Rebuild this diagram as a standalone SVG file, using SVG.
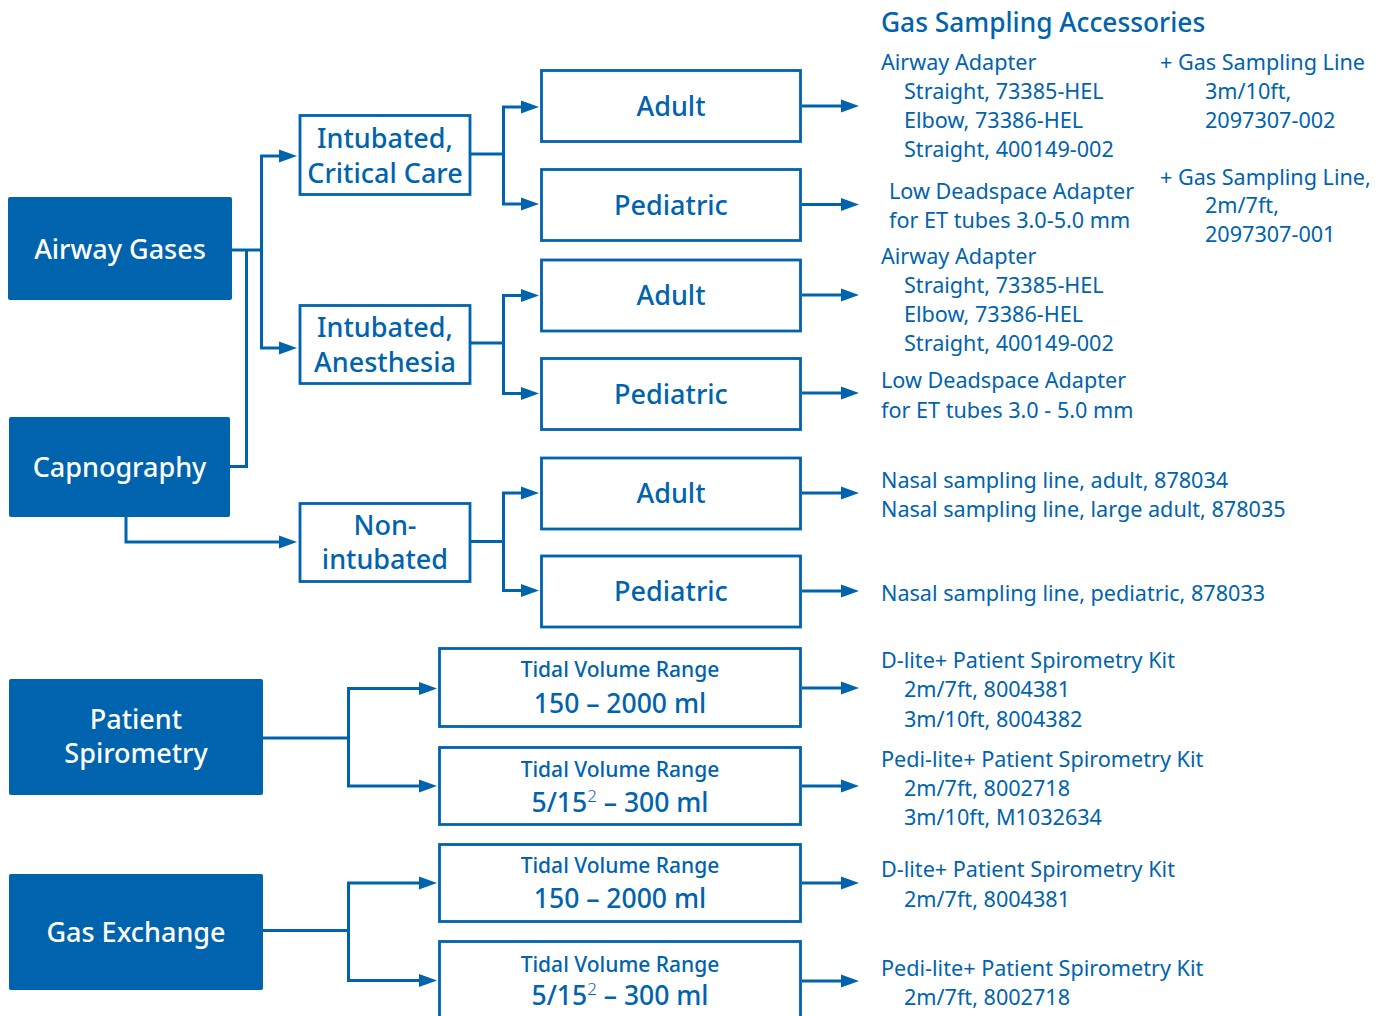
<svg xmlns="http://www.w3.org/2000/svg" width="1386" height="1016" viewBox="0 0 1386 1016">
<defs>
<style>
.fill{fill:#0063AE;}
.box{fill:#fff;stroke:#0063AE;stroke-width:2.8;}
.wl{fill:#fff;font-family:"Noto Sans","DejaVu Sans",sans-serif;font-size:27px;font-weight:500;text-anchor:middle;}
.bl{fill:#0063AE;font-family:"Noto Sans","DejaVu Sans",sans-serif;font-size:27px;font-weight:500;text-anchor:middle;}
.tv{fill:#0063AE;font-family:"Noto Sans","DejaVu Sans",sans-serif;font-size:21px;font-weight:500;text-anchor:middle;}
.tn{fill:#0063AE;font-family:"Noto Sans","DejaVu Sans",sans-serif;font-size:26.5px;font-weight:500;text-anchor:middle;}
.sup{font-size:17px;font-weight:300;}
.rt{fill:#0063AE;font-family:"Noto Sans","DejaVu Sans",sans-serif;font-size:21.6px;}
.ttl{fill:#0063AE;font-family:"Noto Sans","DejaVu Sans",sans-serif;font-size:26.3px;font-weight:500;}
.ln{fill:none;stroke:#0063AE;stroke-width:3;}
.ar{fill:none;stroke:#0063AE;stroke-width:3;marker-end:url(#ah);}
</style>
<marker id="ah" markerUnits="userSpaceOnUse" markerWidth="18" markerHeight="14" refX="10" refY="6.5" orient="auto" viewBox="0 0 18 13">
<path d="M0,0 L18,6.5 L0,13 z" fill="#0063AE"/>
</marker>
</defs>

<g id="connectors">
<path class="ln" d="M232,250 H261.5"/>
<path class="ln" d="M261.5,156 V348"/>
<path class="ar" d="M260,156 H289"/>
<path class="ar" d="M260,348 H289"/>
<path class="ln" d="M246.5,250 V466.5 H230"/>
<path class="ar" d="M126,517 V542 H289"/>
<path class="ln" d="M471,154 H503.5"/>
<path class="ln" d="M503.5,107 V204"/>
<path class="ar" d="M502,107 H531"/>
<path class="ar" d="M502,204 H531"/>
<path class="ln" d="M471,343 H503.5"/>
<path class="ln" d="M503.5,295.5 V393.5"/>
<path class="ar" d="M502,295.5 H531"/>
<path class="ar" d="M502,393.5 H531"/>
<path class="ln" d="M471,541.5 H503.5"/>
<path class="ln" d="M503.5,493 V590.5"/>
<path class="ar" d="M502,493 H531"/>
<path class="ar" d="M502,590.5 H531"/>
<path class="ln" d="M263,738 H348.5"/>
<path class="ln" d="M348.5,688.5 V786"/>
<path class="ar" d="M347,688.5 H429"/>
<path class="ar" d="M347,786 H429"/>
<path class="ln" d="M263,930.5 H348.5"/>
<path class="ln" d="M348.5,883 V980.5"/>
<path class="ar" d="M347,883 H429"/>
<path class="ar" d="M347,980.5 H429"/>
<path class="ar" d="M802,106 H851"/>
<path class="ar" d="M802,204.5 H851"/>
<path class="ar" d="M802,295 H851"/>
<path class="ar" d="M802,393 H851"/>
<path class="ar" d="M802,493 H851"/>
<path class="ar" d="M802,591 H851"/>
<path class="ar" d="M802,688 H851"/>
<path class="ar" d="M802,786 H851"/>
<path class="ar" d="M802,883 H851"/>
<path class="ar" d="M802,981 H851"/>
</g>

<g id="airway-gases">
<rect class="fill" x="8" y="197" width="224" height="103" rx="2"/>
<text class="wl" x="120" y="259">Airway Gases</text>
</g>
<g id="capnography">
<rect class="fill" x="9" y="417" width="221" height="100" rx="2"/>
<text class="wl" x="119.5" y="477">Capnography</text>
</g>
<g id="patient-spirometry">
<rect class="fill" x="9" y="679" width="254" height="116" rx="2"/>
<text class="wl" x="136" y="729">Patient</text>
<text class="wl" x="136" y="763">Spirometry</text>
</g>
<g id="gas-exchange">
<rect class="fill" x="9" y="874" width="254" height="116" rx="2"/>
<text class="wl" x="136" y="942">Gas Exchange</text>
</g>

<g id="intubated-critical-care">
<rect class="box" x="300" y="115.5" width="170" height="79"/>
<text class="bl" x="385" y="148">Intubated,</text>
<text class="bl" x="385" y="183">Critical Care</text>
</g>
<g id="intubated-anesthesia">
<rect class="box" x="300" y="305.5" width="170" height="78"/>
<text class="bl" x="385" y="337">Intubated,</text>
<text class="bl" x="385" y="372">Anesthesia</text>
</g>
<g id="non-intubated">
<rect class="box" x="300" y="503.5" width="170" height="78"/>
<text class="bl" x="385" y="535">Non-</text>
<text class="bl" x="385" y="569">intubated</text>
</g>

<g id="adult-1">
<rect class="box" x="541.5" y="70.5" width="259" height="71"/>
<text class="bl" x="671" y="116">Adult</text>
</g>
<g id="pediatric-1">
<rect class="box" x="541.5" y="169.5" width="259" height="71"/>
<text class="bl" x="671" y="215">Pediatric</text>
</g>
<g id="adult-2">
<rect class="box" x="541.5" y="260" width="259" height="71"/>
<text class="bl" x="671" y="305">Adult</text>
</g>
<g id="pediatric-2">
<rect class="box" x="541.5" y="358.5" width="259" height="71"/>
<text class="bl" x="671" y="404">Pediatric</text>
</g>
<g id="adult-3">
<rect class="box" x="541.5" y="458" width="259" height="71"/>
<text class="bl" x="671" y="503">Adult</text>
</g>
<g id="pediatric-3">
<rect class="box" x="541.5" y="556" width="259" height="71"/>
<text class="bl" x="671" y="601">Pediatric</text>
</g>

<g id="tidal-1">
<rect class="box" x="439.5" y="648.5" width="361" height="78"/>
<text class="tv" x="620" y="677">Tidal Volume Range</text>
<text class="tn" x="620" y="713">150 – 2000 ml</text>
</g>
<g id="tidal-2">
<rect class="box" x="439.5" y="747.5" width="361" height="77"/>
<text class="tv" x="620" y="777">Tidal Volume Range</text>
<text class="tn" x="620" y="812">5/15<tspan class="sup" dy="-10">2</tspan><tspan dy="10"> – 300 ml</tspan></text>
</g>
<g id="tidal-3">
<rect class="box" x="439.5" y="844.5" width="361" height="77"/>
<text class="tv" x="620" y="873">Tidal Volume Range</text>
<text class="tn" x="620" y="908">150 – 2000 ml</text>
</g>
<g id="tidal-4">
<rect class="box" x="439.5" y="941.5" width="361" height="80"/>
<text class="tv" x="620" y="972">Tidal Volume Range</text>
<text class="tn" x="620" y="1005">5/15<tspan class="sup" dy="-10">2</tspan><tspan dy="10"> – 300 ml</tspan></text>
</g>

<g id="accessories">
<text class="ttl" x="881" y="32">Gas Sampling Accessories</text>
<text class="rt" x="881" y="70">Airway Adapter</text>
<text class="rt" x="904" y="99">Straight, 73385-HEL</text>
<text class="rt" x="904" y="128">Elbow, 73386-HEL</text>
<text class="rt" x="904" y="157">Straight, 400149-002</text>
<text class="rt" x="1160" y="70">+ Gas Sampling Line</text>
<text class="rt" x="1205" y="99">3m/10ft,</text>
<text class="rt" x="1205" y="128">2097307-002</text>
<text class="rt" x="889" y="199">Low Deadspace Adapter</text>
<text class="rt" x="889" y="228">for ET tubes 3.0-5.0 mm</text>
<text class="rt" x="1160" y="185">+ Gas Sampling Line,</text>
<text class="rt" x="1205" y="213">2m/7ft,</text>
<text class="rt" x="1205" y="242">2097307-001</text>
<text class="rt" x="881" y="264">Airway Adapter</text>
<text class="rt" x="904" y="293">Straight, 73385-HEL</text>
<text class="rt" x="904" y="322">Elbow, 73386-HEL</text>
<text class="rt" x="904" y="351">Straight, 400149-002</text>
<text class="rt" x="881" y="388">Low Deadspace Adapter</text>
<text class="rt" x="881" y="418">for ET tubes 3.0 - 5.0 mm</text>
<text class="rt" x="881" y="488">Nasal sampling line, adult, 878034</text>
<text class="rt" x="881" y="517">Nasal sampling line, large adult, 878035</text>
<text class="rt" x="881" y="601">Nasal sampling line, pediatric, 878033</text>
<text class="rt" x="881" y="668">D-lite+ Patient Spirometry Kit</text>
<text class="rt" x="904" y="697">2m/7ft, 8004381</text>
<text class="rt" x="904" y="727">3m/10ft, 8004382</text>
<text class="rt" x="881" y="767">Pedi-lite+ Patient Spirometry Kit</text>
<text class="rt" x="904" y="796">2m/7ft, 8002718</text>
<text class="rt" x="904" y="825">3m/10ft, M1032634</text>
<text class="rt" x="881" y="877">D-lite+ Patient Spirometry Kit</text>
<text class="rt" x="904" y="907">2m/7ft, 8004381</text>
<text class="rt" x="881" y="976">Pedi-lite+ Patient Spirometry Kit</text>
<text class="rt" x="904" y="1005">2m/7ft, 8002718</text>
</g>
</svg>
